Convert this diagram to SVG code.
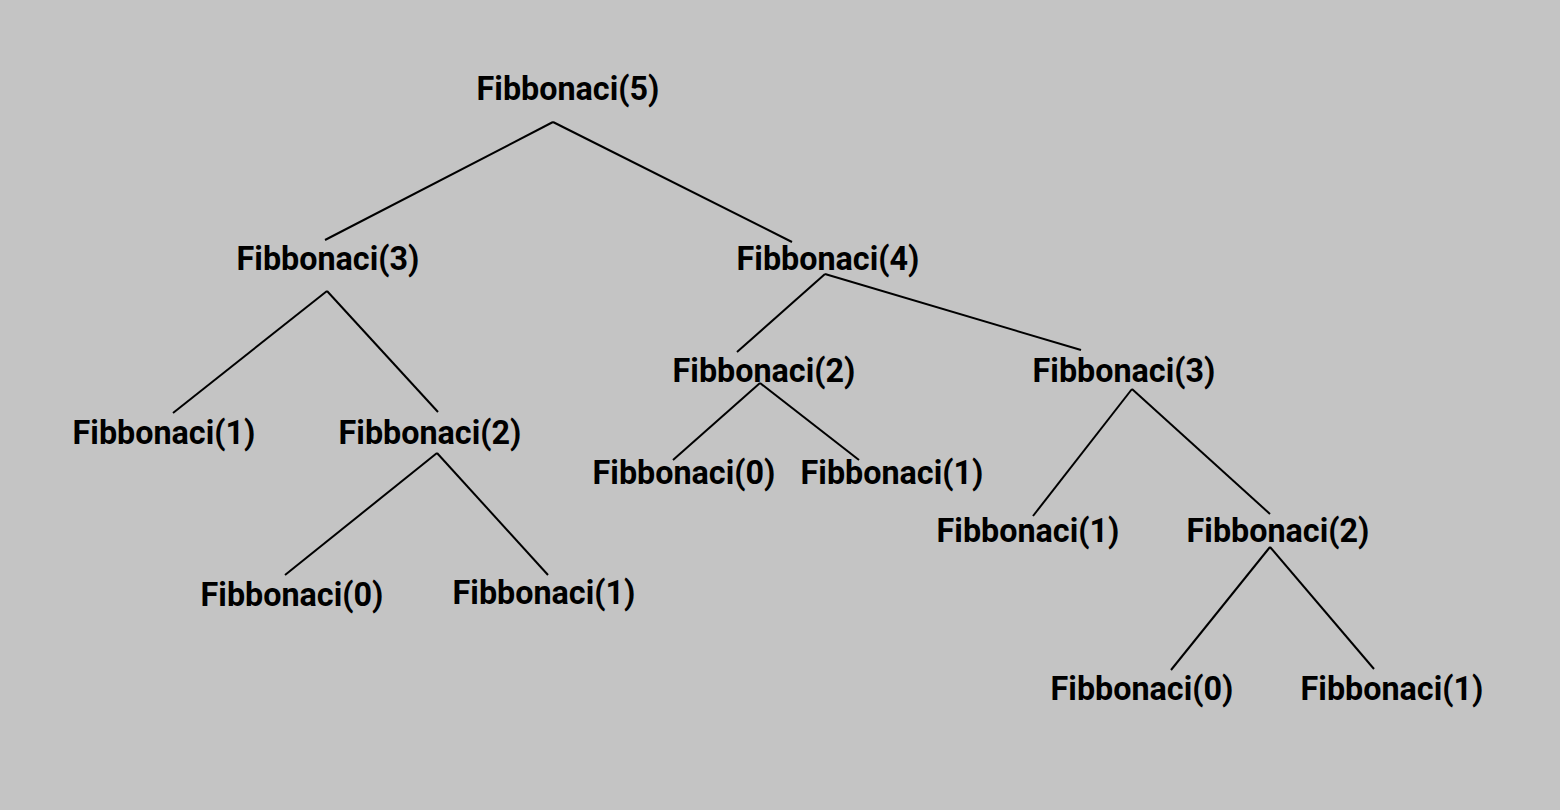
<svg xmlns="http://www.w3.org/2000/svg" width="1560" height="810" viewBox="0 0 1560 810">
<style>
.lbl{font-family:Roboto,"Liberation Sans",sans-serif;font-weight:bold;font-size:32.3px;fill:#000;text-anchor:middle}
.edge{stroke:#000;stroke-width:2;fill:none}
</style>
<rect width="1560" height="810" fill="#c4c4c4"/>
<g id="connectors">
<line class="edge" x1="553" y1="122" x2="325" y2="240"/>
<line class="edge" x1="553" y1="122" x2="792" y2="242"/>
<line class="edge" x1="327" y1="291" x2="173" y2="413"/>
<line class="edge" x1="327" y1="291" x2="438" y2="412"/>
<line class="edge" x1="825" y1="274" x2="737" y2="352"/>
<line class="edge" x1="825" y1="274" x2="1081" y2="350"/>
<line class="edge" x1="760" y1="383" x2="673" y2="460"/>
<line class="edge" x1="760" y1="383" x2="859" y2="460"/>
<line class="edge" x1="1132" y1="389" x2="1033" y2="516"/>
<line class="edge" x1="1132" y1="389" x2="1270" y2="514"/>
<line class="edge" x1="437" y1="453" x2="285" y2="575"/>
<line class="edge" x1="437" y1="453" x2="548" y2="575"/>
<line class="edge" x1="1270" y1="547" x2="1171" y2="670"/>
<line class="edge" x1="1270" y1="547" x2="1374" y2="669"/>
</g>
<g id="n5"><text class="lbl" x="568" y="100">Fibbonaci(5)</text></g>
<g id="n3a"><text class="lbl" x="328" y="270">Fibbonaci(3)</text></g>
<g id="n4"><text class="lbl" x="828" y="270">Fibbonaci(4)</text></g>
<g id="n2b"><text class="lbl" x="764" y="382">Fibbonaci(2)</text></g>
<g id="n3b"><text class="lbl" x="1124" y="382">Fibbonaci(3)</text></g>
<g id="n1a"><text class="lbl" x="164" y="444">Fibbonaci(1)</text></g>
<g id="n2a"><text class="lbl" x="430" y="444">Fibbonaci(2)</text></g>
<g id="n0b"><text class="lbl" x="684" y="484">Fibbonaci(0)</text></g>
<g id="n1b"><text class="lbl" x="892" y="484">Fibbonaci(1)</text></g>
<g id="n1c"><text class="lbl" x="1028" y="542">Fibbonaci(1)</text></g>
<g id="n2c"><text class="lbl" x="1278" y="542">Fibbonaci(2)</text></g>
<g id="n0a"><text class="lbl" x="292" y="606">Fibbonaci(0)</text></g>
<g id="n1d"><text class="lbl" x="544" y="604">Fibbonaci(1)</text></g>
<g id="n0c"><text class="lbl" x="1142" y="700">Fibbonaci(0)</text></g>
<g id="n1e"><text class="lbl" x="1392" y="700">Fibbonaci(1)</text></g>
</svg>
